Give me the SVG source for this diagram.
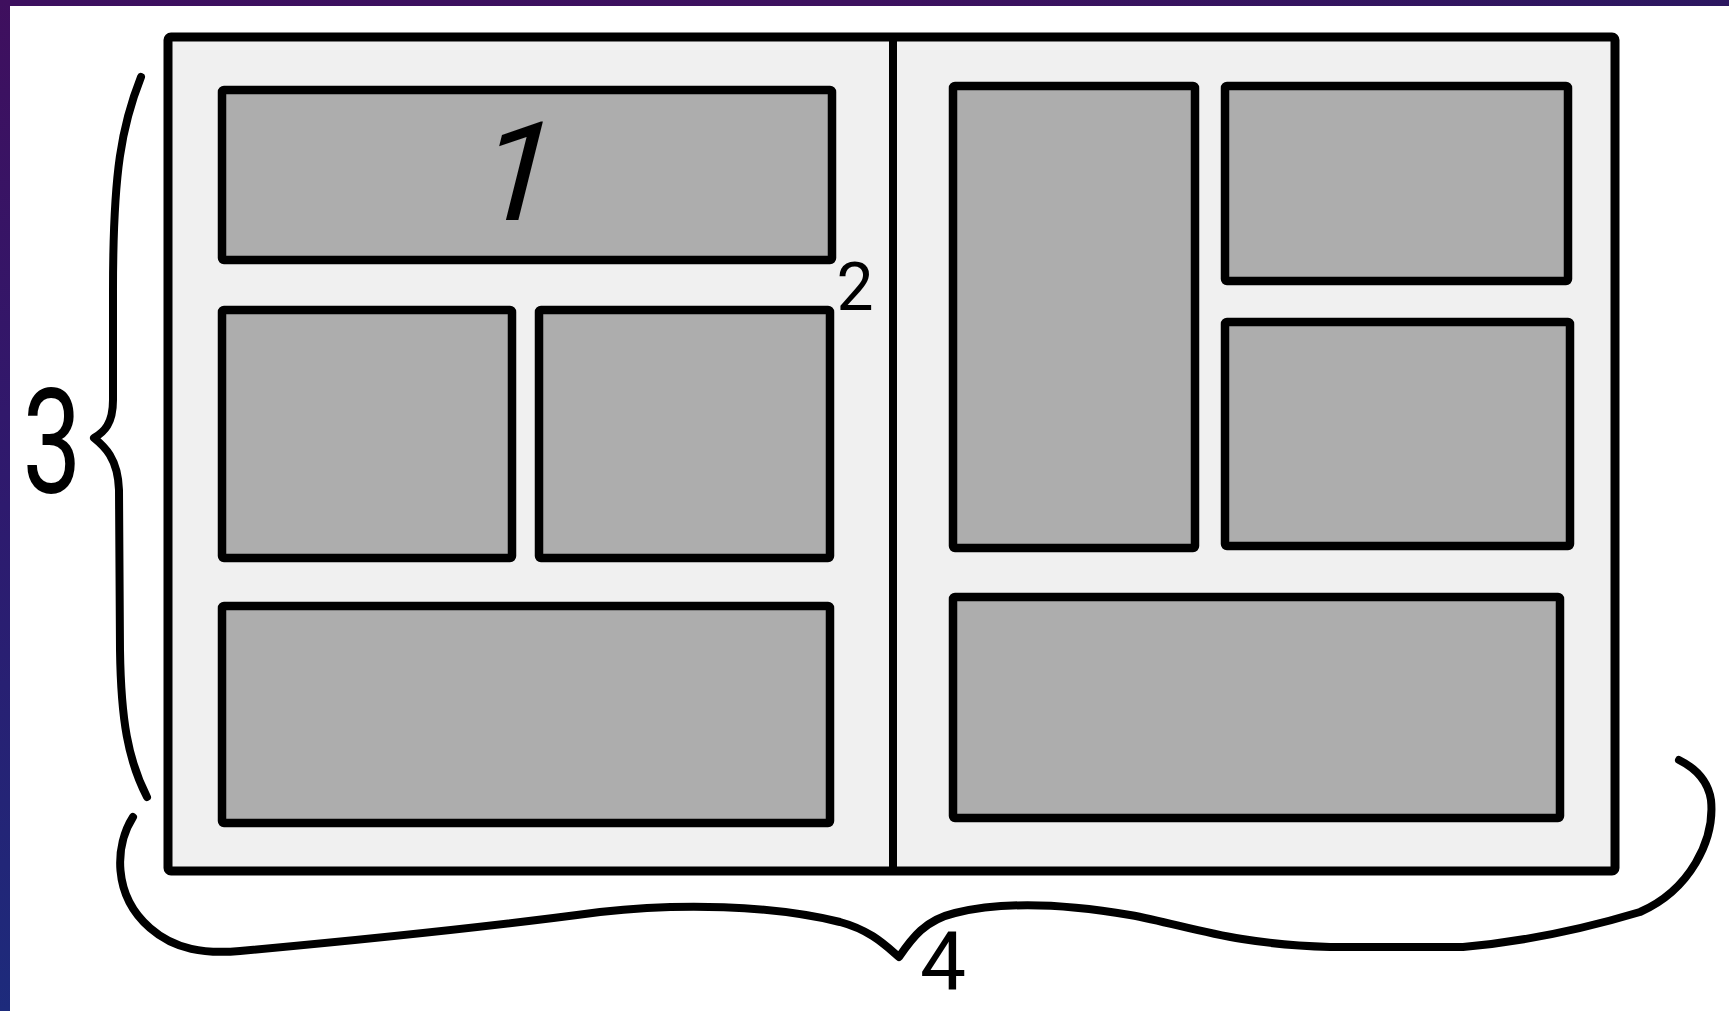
<svg xmlns="http://www.w3.org/2000/svg" width="1729" height="1011" viewBox="0 0 1729 1011">
<defs>
<linearGradient id="lg" x1="0" y1="0" x2="0" y2="1"><stop offset="0" stop-color="#3f0f5e"/><stop offset="0.5" stop-color="#2e1a6e"/><stop offset="1" stop-color="#1d2b7c"/></linearGradient>
<linearGradient id="tg" x1="0" y1="0" x2="1" y2="0"><stop offset="0" stop-color="#3c0f5f"/><stop offset="0.5" stop-color="#3d115f"/><stop offset="1" stop-color="#2c1760"/></linearGradient>
<style>
.page{fill:#f0f0f0;stroke:#000;stroke-width:9;stroke-linejoin:round}
.panel{fill:#adadad;stroke:#000;stroke-width:8.5;stroke-linejoin:round}
.ink{fill:none;stroke:#000;stroke-width:8;stroke-linecap:round;stroke-linejoin:round}
.num{font-family:Roboto,"Liberation Sans",Arial,sans-serif;fill:#000}
</style>
</defs>
<rect x="0" y="0" width="1729" height="1011" fill="#ffffff"/>
<rect x="0" y="0" width="1729" height="6" fill="url(#tg)"/>
<rect x="0" y="0" width="10" height="1011" fill="url(#lg)"/>
<g id="page">
<rect class="page" x="168" y="37" width="1447" height="834" rx="3"/>
</g>
<g id="divider">
<line x1="893" y1="38" x2="893" y2="874" stroke="#000" stroke-width="8"/>
</g>
<g id="panel-1"><rect class="panel" x="222" y="90" width="610" height="170" rx="2"/></g>
<g id="panel-2a"><rect class="panel" x="222" y="310" width="290" height="248" rx="2"/></g>
<g id="panel-2b"><rect class="panel" x="539" y="310" width="291" height="248" rx="2"/></g>
<g id="panel-3"><rect class="panel" x="222" y="606" width="608" height="217" rx="2"/></g>
<g id="panel-r1"><rect class="panel" x="953" y="86" width="242" height="462" rx="2"/></g>
<g id="panel-r2"><rect class="panel" x="1225" y="86" width="343" height="195" rx="2"/></g>
<g id="panel-r3"><rect class="panel" x="1225" y="322" width="345" height="224" rx="2"/></g>
<g id="panel-r4"><rect class="panel" x="953" y="597" width="607" height="221" rx="2"/></g>
<g id="connectors">
<path class="ink" d="M141,77 C122,125 113,170 113,290 L113,400 C113,424 104,432 94,438 C104,446 118,458 119,490 L120,650 C121,720 128,760 147,797"/>
<path class="ink" d="M133,817 C115,845 112,895 150,928 C175,950 205,954 240,951 C360,940 480,928 600,912 C680,903 770,905 840,922 C870,930 885,945 899,957 C912,938 925,920 955,913 C1000,902 1060,903 1130,915 C1190,926 1230,944 1330,947 L1463,947 C1520,942 1580,930 1640,912 C1690,890 1715,840 1711,800 C1708,780 1695,768 1679,760"/>
</g>
<g id="labels">
<text class="num" x="0" y="0" font-size="138" text-anchor="middle" transform="translate(508 220) skewX(-14)">1</text>
<text class="num" x="855" y="310" font-size="66" text-anchor="middle">2</text>
<text class="num" x="0" y="0" font-size="146" text-anchor="middle" transform="translate(52 493) scale(0.72 1)">3</text>
<text class="num" x="943" y="990" font-size="82" text-anchor="middle">4</text>
</g>
</svg>
